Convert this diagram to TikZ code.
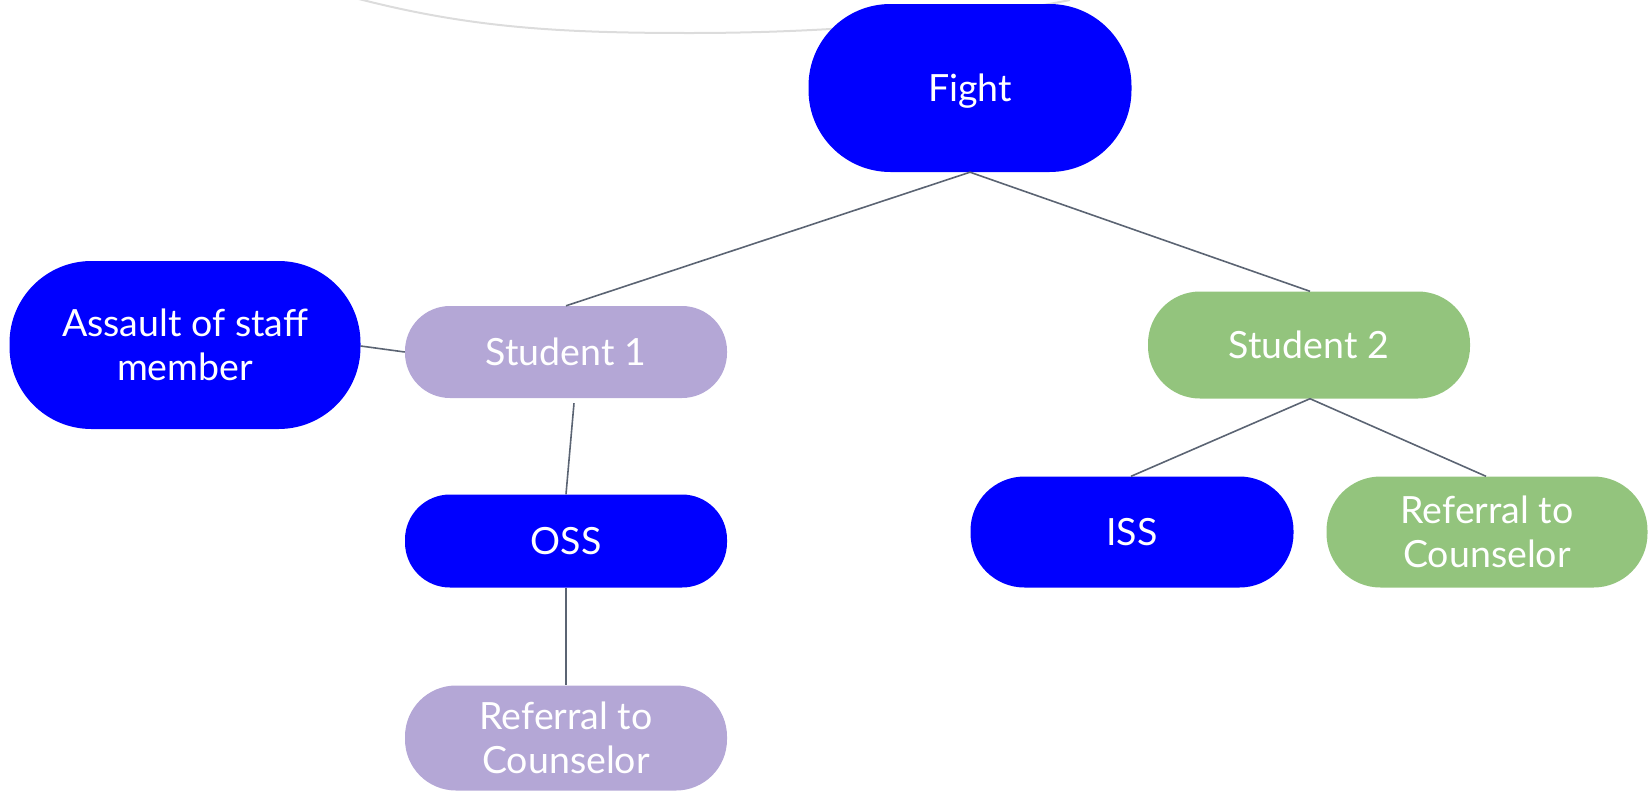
\documentclass[tikz,border=0pt]{standalone}
\usepackage{fontspec}
\setmainfont{Lato}
\definecolor{nblue}{HTML}{0000FF}
\definecolor{nlav}{HTML}{B4A7D6}
\definecolor{ngreen}{HTML}{93C47D}
\definecolor{nline}{HTML}{5B6473}
\definecolor{narc}{HTML}{DCDCDC}
\newcommand{\nodefont}{\fontsize{37.5}{44}\selectfont}
\tikzset{
  box/.style={rectangle, inner sep=0pt, text=white, font=\nodefont, align=center, minimum width=322pt},
  conn/.style={draw=nline, line width=1.6pt},
}
\begin{document}
\begin{tikzpicture}[x=1pt,y=-1pt]
\useasboundingbox (0,0) rectangle (1648,793);
% faint arc at top
\draw[narc, line width=2pt] (355,-2) .. controls (470,28) and (560,33) .. (690,33) .. controls (850,33) and (980,18) .. (1070,0);
% nodes
\node[box, fill=nblue, minimum width=323pt, minimum height=168pt, rounded corners=82pt, text depth=0pt] (fight) at (970,88) {Fight};
\node[box, fill=nblue, minimum width=351pt, minimum height=168pt, rounded corners=82pt] (assault) at (185,345) {Assault of staff\\member};
\node[box, fill=nlav, minimum height=92pt, rounded corners=45pt] (s1) at (566,352) {Student 1};
\node[box, fill=nblue, minimum height=93pt, rounded corners=45pt] (oss) at (566,541) {OSS};
\node[box, fill=nlav, minimum height=105pt, rounded corners=51pt] (ref1) at (566,738) {Referral to\\Counselor};
\node[box, fill=ngreen, minimum height=107pt, rounded corners=52pt] (s2) at (1309,345) {Student 2};
\node[box, fill=nblue, minimum width=323pt, minimum height=111pt, rounded corners=54pt] (iss) at (1132,532) {ISS};
\node[box, fill=ngreen, minimum width=321pt, minimum height=111pt, rounded corners=54pt] (ref2) at (1487,532) {Referral to\\Counselor};
% connectors
\draw[conn] (fight.south) -- (s1.north);
\draw[conn] (fight.south) -- ([xshift=1pt]s2.north);
\draw[conn] ([yshift=-1pt]assault.east) -- (s1.west);
\draw[conn] ([shift={(8,5)}]s1.south) -- (oss.north);
\draw[conn] (oss.south) -- (ref1.north);
\draw[conn] ([xshift=1pt]s2.south) -- ([xshift=-1pt]iss.north);
\draw[conn] ([xshift=1pt]s2.south) -- ([xshift=-1pt]ref2.north);
\end{tikzpicture}
\end{document}
